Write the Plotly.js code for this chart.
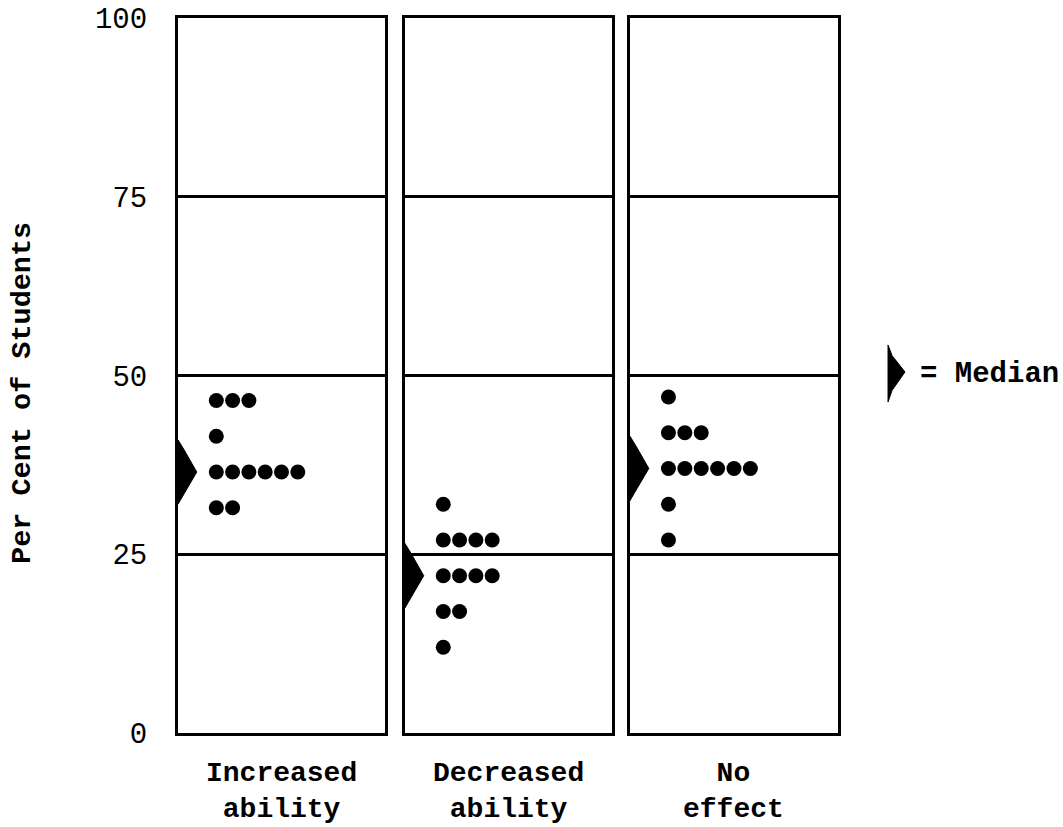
<!DOCTYPE html>
<html>
<head>
<meta charset="utf-8">
<script src="https://cdn.plot.ly/plotly-3.0.1.min.js"></script>
<style>html,body{margin:0;padding:0;background:#fff;}#chart{width:1063px;height:827px;}</style>
</head>
<body>
<div id="chart"></div>
<script>
// ---- data ----
const categories = ["Increased<br>ability", "Decreased<br>ability", "No<br>effect"];
// each dot = one student; rows are the per-cent levels, counts = dots in the row
const incLevels = [46.5, 41.5, 36.5, 31.5];
const incCounts = [3, 1, 6, 2];
const decLevels = [32, 27, 22, 17, 12];
const decCounts = [1, 4, 4, 2, 1];
const noneLevels = [47, 42, 37, 32, 27];
const noneCounts = [1, 3, 6, 1, 1];
const medians = [36.5, 22, 37];
const yTicks = [0, 25, 50, 75, 100];

// ---- build traces ----
const FONT = "Liberation Mono, Courier New, monospace";
const xr = [-2.35, 10.35];
const panels = [
  {levels: incLevels, counts: incCounts},
  {levels: decLevels, counts: decCounts},
  {levels: noneLevels, counts: noneCounts}
];
const traces = [];
panels.forEach((p, i) => {
  const xs = [], ys = [];
  p.levels.forEach((lv, r) => {
    for (let k = 0; k < p.counts[r]; k++) { xs.push(k); ys.push(lv); }
  });
  const xa = i === 0 ? 'x' : 'x' + (i + 1);
  const ya = i === 0 ? 'y' : 'y' + (i + 1);
  traces.push({
    type: 'scatter', mode: 'markers', x: xs, y: ys, xaxis: xa, yaxis: ya,
    marker: {size: 15, color: '#000'}, hoverinfo: 'skip', showlegend: false
  });
  // median pointer on the left edge of the panel
  const m = medians[i];
  traces.push({
    type: 'scatter', mode: 'lines', xaxis: xa, yaxis: ya,
    x: [xr[0], xr[0] + 0.35, xr[0] + 1.15, xr[0] + 0.35, xr[0], xr[0]],
    y: [m + 4.5, m + 3.2, m, m - 3.2, m - 4.5, m + 4.5],
    fill: 'toself', fillcolor: '#000', line: {color: '#000', width: 1},
    hoverinfo: 'skip', showlegend: false
  });
});

const doms = [[0, 0.3136], [0.3439, 0.6576], [0.6848, 1]];
const layout = {
  width: 1063, height: 827,
  margin: {l: 178, r: 225, t: 18, b: 94},
  paper_bgcolor: '#fff', plot_bgcolor: '#fff',
  font: {family: FONT, color: '#000', size: 28},
  showlegend: false,
  annotations: [],
  shapes: []
};
doms.forEach((d, i) => {
  const sfx = i === 0 ? '' : String(i + 1);
  layout['xaxis' + sfx] = {
    domain: d, range: xr, anchor: 'y' + sfx, showline: true, mirror: true,
    linecolor: '#000', linewidth: 3, showgrid: false, zeroline: false,
    showticklabels: false, ticks: '', fixedrange: true
  };
  layout['yaxis' + sfx] = {
    anchor: 'x' + sfx, range: [0, 100], tickvals: yTicks,
    showline: true, mirror: true, linecolor: '#000', linewidth: 3,
    showgrid: true, gridcolor: '#000', gridwidth: 3, zeroline: false,
    showticklabels: i === 0, ticks: '', ticklabelstandoff: 22,
    tickfont: {family: FONT, size: 29, color: '#000'}, fixedrange: true
  };
  if (i > 0) layout['yaxis' + sfx].matches = 'y';
  layout.annotations.push({
    text: categories[i], xref: 'x' + sfx, yref: 'paper',
    x: (xr[0] + xr[1]) / 2, y: -0.032, yanchor: 'top', xanchor: 'center',
    showarrow: false, align: 'center',
    font: {family: FONT, size: 28, color: '#000', weight: 'bold'}
  });
});
// y-axis title
layout.annotations.push({
  text: 'Per Cent of Students', xref: 'paper', yref: 'paper',
  x: -0.236, y: 0.476, xanchor: 'center', yanchor: 'middle', textangle: -90,
  showarrow: false,
  font: {family: FONT, size: 28.5, color: '#000', weight: 'bold'}
});
// median key
layout.shapes.push({
  type: 'path', xref: 'paper', yref: 'paper', layer: 'above',
  path: 'M 1.0758 0.5427 L 1.0818 0.5280 L 1.1015 0.5049 L 1.0818 0.4790 L 1.0758 0.4629 Z',
  fillcolor: '#000', line: {color: '#000', width: 1}
});
layout.annotations.push({
  text: '= Median', xref: 'paper', yref: 'paper', x: 1.1212, y: 0.5020,
  xanchor: 'left', yanchor: 'middle', showarrow: false,
  font: {family: FONT, size: 29, color: '#000', weight: 'bold'}
});

Plotly.newPlot('chart', traces, layout, {staticPlot: true, displayModeBar: false});
</script>
</body>
</html>
